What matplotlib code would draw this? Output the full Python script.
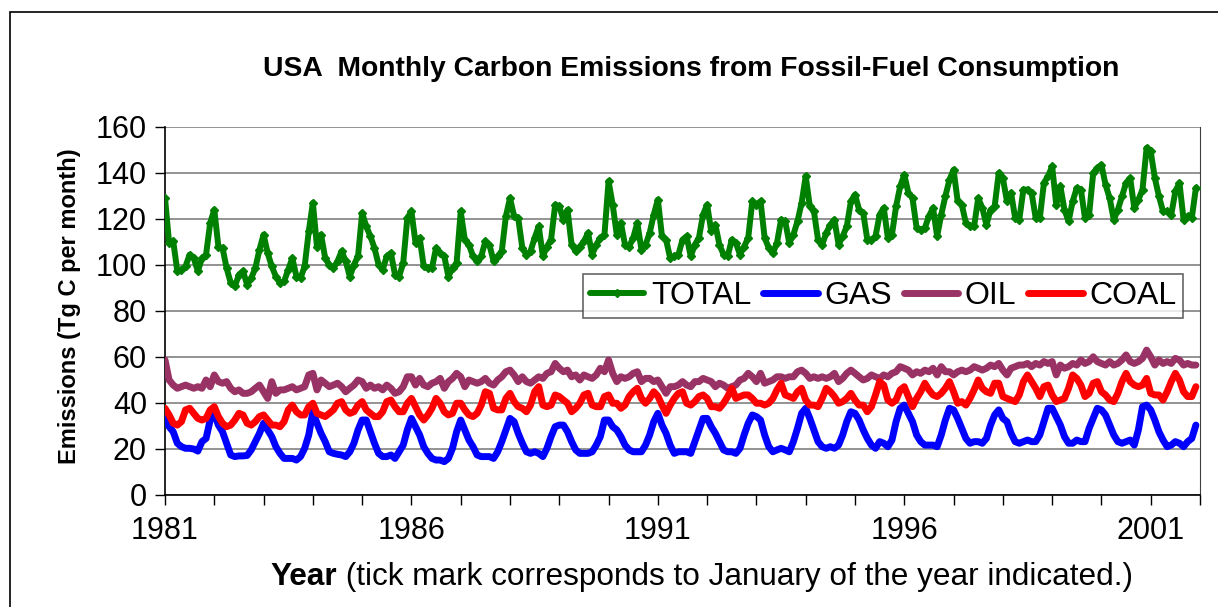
import matplotlib
matplotlib.use("Agg")
import matplotlib.pyplot as plt
from matplotlib.patches import Rectangle
import numpy as np

plt.rcParams['font.family'] = ['Liberation Sans', 'DejaVu Sans']

# monthly values, Jan 1981 .. Dec 2001 (Tg C per month), one row per year
total = [
    129.1, 109.6, 110.3, 97.3, 98.0, 99.4, 104.5, 103.0, 97.3, 103.0, 104.5, 118.3,
    124.0, 108.0, 107.4, 98.7, 92.2, 90.7, 95.8, 97.3, 91.4, 94.3, 98.7, 106.7,
    113.2, 105.2, 99.4, 95.0, 92.2, 92.9, 98.0, 103.0, 95.0, 94.3, 99.4, 114.6,
    127.0, 108.0, 113.2, 103.0, 100.1, 98.7, 101.6, 106.0, 101.6, 95.0, 100.1, 103.8,
    122.6, 116.8, 112.5, 107.4, 100.1, 98.0, 103.8, 105.2, 95.8, 95.0, 100.9, 120.4,
    123.3, 109.6, 111.8, 99.4, 98.7, 98.7, 107.4, 105.2, 103.8, 95.0, 98.7, 100.9,
    123.3, 111.0, 108.8, 103.8, 101.6, 103.8, 110.3, 108.8, 101.6, 103.8, 106.0, 121.2,
    129.1, 121.2, 120.4, 107.4, 104.5, 106.0, 111.8, 116.8, 103.8, 108.0, 111.0, 126.2,
    125.5, 119.7, 124.0, 108.8, 106.0, 108.0, 110.3, 113.9, 104.5, 108.8, 111.8, 113.2,
    136.4, 126.2, 113.2, 118.3, 108.8, 108.0, 111.8, 118.3, 106.7, 108.8, 113.9, 121.9,
    128.4, 112.5, 111.0, 103.0, 103.8, 104.5, 111.0, 112.5, 103.8, 108.8, 111.8, 121.9,
    126.2, 114.6, 117.5, 108.8, 104.5, 103.8, 111.0, 109.6, 104.5, 108.0, 111.8, 127.7,
    126.2, 127.7, 111.8, 107.4, 105.2, 109.6, 119.7, 119.0, 109.6, 113.2, 119.0, 127.0,
    138.6, 125.5, 123.3, 111.0, 108.8, 113.9, 117.5, 119.7, 108.8, 112.5, 116.8, 127.7,
    130.6, 124.0, 122.6, 111.0, 111.0, 112.5, 121.9, 124.8, 111.8, 113.2, 125.5, 134.2,
    139.3, 131.3, 129.1, 116.1, 115.4, 116.1, 121.2, 124.8, 112.5, 121.9, 129.9, 137.1,
    141.4, 127.7, 126.2, 118.3, 116.8, 116.8, 129.1, 124.8, 117.5, 124.0, 125.5, 140.0,
    137.8, 127.7, 131.3, 120.4, 119.7, 132.8, 132.8, 131.3, 120.4, 120.4, 135.7, 138.6,
    142.9, 126.2, 134.2, 124.0, 119.0, 127.7, 133.5, 132.8, 120.4, 121.9, 140.0, 142.2,
    143.6, 134.9, 129.1, 119.7, 124.0, 129.9, 135.7, 137.8, 124.8, 128.4, 132.8, 150.9,
    149.4, 137.8, 129.9, 123.3, 123.3, 121.9, 132.0, 135.7, 119.7, 121.2, 120.4, 133.5,
]

gas = [
    34.1, 29.7, 27.5, 22.5, 21.0, 20.3, 20.3, 20.0, 19.1, 23.2, 24.6, 32.6,
    35.5, 30.4, 27.5, 22.5, 17.4, 16.7, 17.0, 17.0, 17.2, 19.6, 23.2, 26.8,
    31.2, 28.3, 25.4, 21.0, 18.1, 15.9, 15.9, 15.9, 15.2, 16.7, 20.3, 26.1,
    36.2, 31.2, 26.8, 23.2, 18.8, 18.1, 17.7, 17.4, 16.7, 18.8, 22.5, 28.3,
    32.6, 32.6, 27.5, 22.5, 18.1, 16.7, 16.7, 17.4, 15.9, 18.8, 21.7, 28.3,
    33.3, 29.7, 26.1, 21.0, 18.1, 15.9, 15.2, 15.2, 14.5, 15.9, 20.3, 27.5,
    32.6, 28.3, 23.9, 21.0, 17.4, 16.7, 16.7, 16.7, 15.9, 18.8, 23.2, 28.3,
    33.3, 31.9, 26.8, 22.5, 18.8, 18.1, 18.8, 18.1, 16.7, 20.3, 25.4, 29.7,
    30.4, 30.4, 27.5, 23.2, 19.6, 18.1, 18.1, 18.1, 18.8, 21.7, 25.4, 32.6,
    32.6, 29.7, 28.3, 25.4, 21.7, 19.6, 18.8, 18.8, 18.8, 21.7, 26.1, 31.9,
    35.5, 30.4, 26.8, 21.7, 18.1, 18.8, 18.8, 18.8, 18.1, 23.2, 28.3, 33.3,
    33.3, 29.7, 26.8, 23.2, 19.6, 18.8, 18.8, 18.1, 20.3, 26.1, 31.2, 34.8,
    34.1, 32.6, 26.1, 21.0, 18.8, 19.6, 20.3, 19.6, 18.8, 23.2, 29.0, 35.5,
    37.7, 33.3, 28.3, 23.2, 21.0, 20.3, 21.0, 20.3, 21.7, 26.1, 31.9, 36.2,
    35.5, 32.6, 28.3, 24.6, 21.7, 20.3, 23.2, 22.5, 21.0, 23.9, 31.9, 37.7,
    39.1, 35.5, 31.9, 26.1, 23.2, 21.7, 21.7, 21.7, 21.0, 26.1, 32.6, 37.7,
    37.0, 33.3, 29.0, 24.6, 22.5, 23.2, 23.2, 22.5, 24.6, 30.4, 34.8, 37.0,
    33.3, 31.9, 26.8, 23.2, 22.5, 23.2, 23.9, 23.2, 23.2, 26.1, 31.9, 37.7,
    37.7, 34.1, 30.4, 25.4, 22.5, 22.5, 23.9, 23.2, 23.2, 29.0, 33.3, 37.7,
    37.0, 34.8, 30.4, 26.1, 23.2, 22.5, 23.2, 23.9, 21.7, 28.3, 38.4, 39.1,
    37.0, 32.6, 27.5, 23.9, 21.0, 21.7, 23.2, 22.5, 21.0, 23.2, 24.6, 30.4,
]

oil = [
    58.7, 50.0, 47.8, 46.4, 47.1, 47.8, 47.1, 46.4, 47.1, 46.4, 50.0, 47.1,
    52.2, 49.3, 48.6, 49.3, 46.4, 44.9, 45.7, 44.2, 44.2, 44.9, 46.4, 47.8,
    44.9, 42.0, 49.3, 44.2, 45.7, 45.7, 46.4, 47.1, 45.7, 46.4, 47.1, 52.2,
    52.9, 45.7, 50.0, 48.6, 47.1, 47.8, 48.6, 47.1, 44.9, 46.4, 47.8, 50.0,
    49.3, 46.4, 47.8, 46.4, 47.1, 45.7, 47.8, 46.4, 44.2, 44.9, 47.1, 51.4,
    51.4, 47.8, 50.7, 47.8, 47.1, 48.6, 49.3, 50.7, 46.4, 49.3, 50.7, 52.9,
    51.4, 47.1, 50.0, 49.3, 48.6, 49.3, 50.7, 48.6, 47.8, 50.0, 51.4, 53.6,
    54.3, 52.2, 49.3, 51.4, 49.3, 48.6, 50.0, 51.4, 50.7, 52.9, 53.6, 57.2,
    55.1, 53.6, 54.3, 51.4, 52.2, 50.0, 52.2, 51.4, 50.7, 52.2, 55.1, 53.6,
    58.7, 52.9, 49.3, 51.4, 50.7, 51.4, 52.9, 53.6, 49.3, 50.7, 50.7, 49.3,
    50.0, 47.1, 44.2, 47.1, 47.1, 47.8, 49.3, 47.8, 47.1, 49.3, 49.3, 50.7,
    50.0, 49.3, 47.1, 48.6, 47.8, 46.4, 47.1, 47.8, 50.0, 50.7, 52.9, 51.4,
    49.3, 52.9, 48.6, 49.3, 50.0, 51.4, 51.4, 50.7, 51.4, 51.4, 53.6, 54.3,
    52.9, 50.7, 51.4, 50.7, 51.4, 50.7, 51.4, 52.9, 49.3, 50.7, 52.9, 54.3,
    52.9, 51.4, 50.0, 50.7, 52.2, 51.4, 50.7, 52.2, 51.4, 52.9, 53.6, 55.8,
    55.1, 54.3, 52.2, 53.6, 52.9, 54.3, 53.6, 55.1, 52.2, 55.8, 53.6, 53.6,
    52.2, 53.6, 54.3, 53.6, 54.3, 55.8, 55.1, 54.3, 55.1, 56.5, 55.8, 57.2,
    54.3, 52.2, 55.1, 55.8, 56.5, 56.5, 57.2, 55.8, 57.2, 56.5, 58.0, 57.2,
    58.0, 52.2, 56.5, 55.1, 55.8, 57.2, 56.5, 58.7, 57.2, 58.0, 60.1, 58.0,
    57.2, 56.5, 58.0, 56.5, 57.2, 58.7, 60.9, 58.0, 57.2, 58.0, 59.4, 63.0,
    60.1, 56.5, 58.7, 57.2, 58.0, 57.2, 59.4, 58.7, 56.5, 57.2, 56.5, 56.5,
]

coal = [
    37.7, 34.8, 31.2, 30.4, 31.9, 37.0, 37.7, 35.5, 33.3, 32.6, 33.3, 37.0,
    38.4, 34.1, 31.2, 29.7, 30.4, 32.6, 35.5, 34.8, 31.2, 30.4, 31.9, 34.1,
    34.8, 32.6, 30.4, 30.4, 29.7, 31.9, 37.0, 39.1, 36.2, 34.8, 34.8, 38.4,
    39.9, 35.5, 34.8, 34.1, 35.5, 37.0, 39.9, 40.6, 37.0, 35.5, 36.2, 39.1,
    40.6, 37.0, 35.5, 34.1, 34.1, 36.2, 40.6, 41.3, 38.4, 36.2, 36.2, 39.9,
    42.0, 38.4, 34.8, 32.6, 34.8, 37.7, 42.0, 39.9, 36.2, 34.8, 35.5, 39.9,
    39.9, 37.0, 34.8, 34.1, 35.5, 39.1, 44.9, 44.2, 37.7, 37.0, 37.0, 42.0,
    44.2, 40.6, 38.4, 37.7, 36.2, 39.1, 44.9, 47.1, 39.1, 38.4, 39.1, 43.5,
    42.8, 41.3, 39.9, 36.2, 37.7, 39.9, 43.5, 44.2, 39.1, 38.4, 38.4, 42.8,
    43.5, 39.9, 39.9, 37.7, 39.1, 42.8, 44.9, 46.4, 42.0, 39.9, 42.0, 44.9,
    43.0, 39.1, 35.5, 39.1, 42.0, 44.2, 44.9, 39.9, 39.1, 40.6, 42.8, 43.5,
    42.0, 38.4, 38.4, 37.7, 39.9, 42.8, 46.4, 42.0, 42.8, 43.5, 43.5, 42.0,
    39.9, 39.9, 39.1, 39.9, 42.0, 45.7, 48.6, 43.5, 42.8, 42.0, 44.9, 46.4,
    41.3, 39.1, 39.1, 38.4, 42.0, 46.4, 44.9, 42.8, 39.9, 40.6, 42.0, 44.2,
    41.3, 39.1, 39.1, 36.2, 38.4, 43.5, 49.3, 47.8, 41.3, 39.9, 41.3, 45.7,
    47.1, 42.8, 38.4, 42.0, 44.9, 48.6, 45.7, 43.5, 42.8, 44.2, 46.4, 49.3,
    44.9, 39.9, 40.6, 39.1, 42.0, 45.7, 50.0, 46.4, 44.9, 44.2, 48.6, 48.6,
    42.8, 42.0, 41.3, 40.6, 43.5, 49.3, 52.2, 49.3, 46.4, 42.8, 47.1, 47.8,
    43.5, 40.6, 41.3, 42.0, 46.4, 52.2, 50.7, 47.8, 42.8, 44.2, 48.6, 49.3,
    44.9, 43.5, 41.3, 40.6, 44.2, 49.3, 52.9, 49.3, 47.8, 47.1, 47.8, 50.7,
    44.2, 43.5, 43.5, 41.3, 44.9, 49.3, 52.9, 50.0, 44.9, 42.8, 42.8, 47.1,
]

start_year = 1981
year_labels = ['1981', '1986', '1991', '1996', '2001']
y_ticks = [0, 20, 40, 60, 80, 100, 120, 140, 160]

W, H = 1218, 607
fig = plt.figure(figsize=(W / 100, H / 100), dpi=100)
ax = fig.add_axes([165 / W, 1 - 495 / H, (1200 - 165) / W, (495 - 127) / H])

months = start_year + np.arange(len(total)) / 12.0

line_kw = dict(solid_joinstyle='round', solid_capstyle='round', zorder=3)
ax.plot(months, total, color='#008000', lw=4.3, marker='D', ms=3.8,
        label='TOTAL', **line_kw)
ax.plot(months, gas, color='#0000ff', lw=5, label='GAS', **line_kw)
ax.plot(months, oil, color='#993366', lw=5, label='OIL', **line_kw)
ax.plot(months, coal, color='#ff0000', lw=5, label='COAL', **line_kw)

ax.set_xlim(start_year, start_year + 21)
ax.set_ylim(0, 160)
ax.set_yticks(y_ticks)
ax.set_xticks(np.arange(start_year, start_year + 22))
ax.set_xticklabels([str(y) if str(y) in year_labels else ''
                    for y in range(start_year, start_year + 22)])
ax.tick_params(axis='both', direction='out', length=7, width=1,
               labelsize=22, colors='black')
ax.tick_params(axis='x', pad=8)
ax.tick_params(axis='y', pad=6)

ax.grid(axis='y', color='#808080', lw=1.2)
ax.set_axisbelow(True)
for s in ['left', 'bottom']:
    ax.spines[s].set_color('black')
    ax.spines[s].set_linewidth(1.2)
ax.spines['top'].set_visible(False)
ax.spines['right'].set_color('#404040')

leg = ax.legend(loc='upper left', bbox_to_anchor=(0.404, 0.6005), ncol=4,
                fontsize=23, frameon=True, fancybox=False, borderaxespad=0,
                handlelength=1.7, handletextpad=0.2, columnspacing=0.38,
                borderpad=0.22, edgecolor='#404040')
leg.get_frame().set_linewidth(1.2)

fig.text(691 / W, 1 - 69 / H, 'USA  Monthly Carbon Emissions from Fossil-Fuel Consumption',
         ha='center', va='center', fontsize=20.3, fontweight='bold')
fig.text(70 / W, 1 - 306 / H, 'Emissions (Tg C per month)', rotation=90,
         ha='center', va='center', fontsize=17, fontweight='bold')

# x label: bold "Year" followed by regular text
fig.canvas.draw()
r = fig.canvas.get_renderer()
ty = 1 - 577 / H
t1 = fig.text(0, ty, 'Year', fontsize=22.7, fontweight='bold', va='center')
t2 = fig.text(0, ty, ' (tick mark corresponds to January of the year indicated.)',
              fontsize=22.7, va='center')
w1 = t1.get_window_extent(r).width
w2 = t2.get_window_extent(r).width
x0 = 702 - (w1 + w2) / 2
t1.set_x(x0 / W)
t2.set_x((x0 + w1) / W)

fig.patches.append(Rectangle((9.5 / W, -0.1), 1.2, 0.1 + (H - 12) / H,
                             transform=fig.transFigure, fill=False,
                             edgecolor='black', lw=1.2))

fig.savefig('out.png', dpi=100)
